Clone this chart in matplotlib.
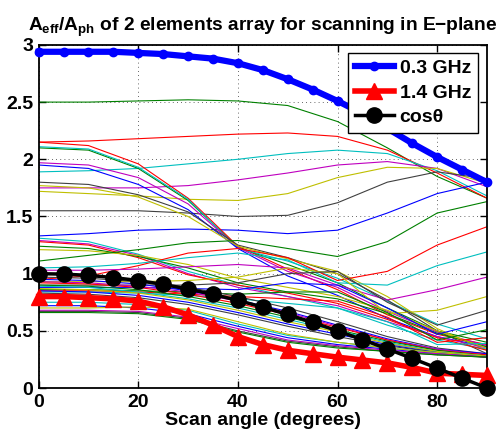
import numpy as np
import matplotlib
matplotlib.use("Agg")
import matplotlib.pyplot as plt
from matplotlib.font_manager import FontProperties

plt.rcParams['font.family'] = ['Liberation Sans', 'DejaVu Sans']
plt.rcParams['font.weight'] = 'bold'
plt.rcParams['mathtext.fontset'] = 'custom'
plt.rcParams['mathtext.rm'] = 'Liberation Sans:bold'
plt.rcParams['mathtext.it'] = 'Liberation Sans:bold'
plt.rcParams['mathtext.bf'] = 'Liberation Sans:bold'

# scan angles of the marked curves (deg)
angles = [0, 5, 10, 15, 20, 25, 30, 35, 40, 45, 50, 55, 60, 65, 70, 75, 80, 85, 90]
low_freq = [2.94, 2.94, 2.94, 2.94, 2.93, 2.92, 2.90, 2.88, 2.84, 2.78, 2.70, 2.61, 2.51,
            2.40, 2.27, 2.14, 2.02, 1.91, 1.80]
high_freq = [0.80, 0.80, 0.79, 0.78, 0.76, 0.71, 0.64, 0.55, 0.45, 0.38, 0.33, 0.30, 0.27,
             0.245, 0.22, 0.18, 0.13, 0.12, 0.11]
cos_ref = [1.0, 0.996, 0.985, 0.966, 0.940, 0.906, 0.866, 0.819, 0.766, 0.707, 0.643, 0.574,
           0.500, 0.423, 0.342, 0.259, 0.174, 0.087, 0.0]

# intermediate frequencies, sampled every 10 deg
thin_angles = [0, 10, 20, 30, 40, 50, 60, 70, 80, 90]

upper_flat = [
    [2.50, 2.50, 2.51, 2.52, 2.51, 2.47, 2.33, 2.10, 1.85, 1.66],
    [2.15, 2.16, 2.18, 2.20, 2.22, 2.23, 2.20, 2.08, 1.88, 1.66],
    [1.89, 1.90, 1.92, 1.96, 2.00, 2.05, 2.08, 2.05, 1.90, 1.68],
    [1.75, 1.75, 1.75, 1.77, 1.82, 1.88, 1.95, 1.98, 1.92, 1.76],
    [1.72, 1.70, 1.68, 1.65, 1.64, 1.70, 1.84, 1.93, 1.92, 1.79],
    [1.55, 1.55, 1.55, 1.53, 1.50, 1.51, 1.62, 1.80, 1.89, 1.83],
    [1.33, 1.35, 1.38, 1.39, 1.38, 1.35, 1.38, 1.53, 1.70, 1.80],
]
upper_flat_colors = ['g', 'r', 'c', 'm', 'y', 'k', 'b']

upper_fall = [
    [2.15, 2.12, 1.96, 1.66, 1.24, 1.04, 0.86, 0.64, 0.47, 0.38],
    [2.10, 2.08, 1.92, 1.64, 1.23, 1.08, 0.92, 0.70, 0.50, 0.40],
    [2.11, 2.09, 1.93, 1.65, 1.22, 1.11, 0.96, 0.76, 0.56, 0.43],
    [1.97, 1.95, 1.84, 1.61, 1.23, 1.02, 0.88, 0.67, 0.49, 0.37],
    [1.95, 1.92, 1.78, 1.56, 1.22, 0.98, 0.81, 0.61, 0.45, 0.36],
    [1.80, 1.78, 1.69, 1.54, 1.25, 1.14, 1.00, 0.77, 0.50, 0.30],
    [1.77, 1.75, 1.67, 1.50, 1.24, 1.13, 1.02, 0.80, 0.52, 0.33],
]
upper_fall_colors = ['r', 'g', 'c', 'm', 'b', 'k', 'y']

mid_fall = [
    [1.31, 1.28, 1.17, 1.02, 0.90, 0.80, 0.70, 0.55, 0.42, 0.34],
    [1.29, 1.26, 1.16, 1.00, 0.88, 0.80, 0.72, 0.58, 0.45, 0.35],
    [1.28, 1.25, 1.14, 0.99, 0.90, 0.83, 0.74, 0.60, 0.44, 0.33],
    [1.24, 1.22, 1.15, 1.05, 0.92, 0.84, 0.78, 0.65, 0.48, 0.36],
    [1.21, 1.20, 1.16, 1.08, 0.96, 0.88, 0.80, 0.68, 0.50, 0.35],
]
mid_fall_colors = ['c', 'm', 'r', 'g', 'y']

late_rise = [
    [1.11, 1.16, 1.21, 1.27, 1.29, 1.22, 1.15, 1.28, 1.53, 1.63],
    [0.95, 0.98, 1.07, 1.18, 1.22, 1.14, 0.94, 1.02, 1.25, 1.41],
    [1.05, 1.06, 1.09, 1.14, 1.18, 1.12, 0.92, 0.90, 1.07, 1.19],
    [1.03, 1.03, 1.04, 1.06, 1.08, 1.05, 0.90, 0.77, 0.86, 0.97],
    [0.93, 0.93, 0.93, 0.94, 0.97, 1.05, 1.00, 0.65, 0.68, 0.80],
    [0.90, 0.90, 0.90, 0.90, 0.92, 1.00, 1.02, 0.75, 0.55, 0.68],
    [0.88, 0.88, 0.88, 0.87, 0.86, 0.92, 0.90, 0.70, 0.47, 0.58],
    [0.86, 0.86, 0.85, 0.84, 0.82, 0.84, 0.84, 0.66, 0.42, 0.51],
    [0.85, 0.85, 0.84, 0.82, 0.80, 0.78, 0.76, 0.62, 0.40, 0.44],
    [0.84, 0.84, 0.83, 0.81, 0.78, 0.74, 0.70, 0.58, 0.38, 0.39],
]
late_rise_colors = ['g', 'r', 'c', 'm', 'y', 'k', 'b', 'g', 'r', 'c']

low_fall = [
    [0.97, 0.96, 0.93, 0.88, 0.80, 0.70, 0.58, 0.45, 0.35, 0.30],
    [0.95, 0.94, 0.91, 0.85, 0.77, 0.67, 0.55, 0.43, 0.34, 0.30],
    [0.93, 0.92, 0.89, 0.84, 0.76, 0.66, 0.54, 0.42, 0.34, 0.29],
    [0.92, 0.91, 0.88, 0.82, 0.74, 0.64, 0.53, 0.42, 0.33, 0.29],
    [0.90, 0.89, 0.86, 0.80, 0.72, 0.62, 0.51, 0.41, 0.33, 0.28],
    [0.89, 0.88, 0.84, 0.78, 0.70, 0.60, 0.50, 0.40, 0.32, 0.28],
    [0.87, 0.86, 0.83, 0.77, 0.68, 0.58, 0.49, 0.39, 0.32, 0.28],
    [0.85, 0.84, 0.81, 0.75, 0.66, 0.56, 0.47, 0.38, 0.31, 0.27],
    [0.83, 0.82, 0.79, 0.73, 0.64, 0.54, 0.45, 0.37, 0.31, 0.27],
    [0.75, 0.75, 0.73, 0.68, 0.56, 0.46, 0.40, 0.35, 0.31, 0.28],
    [0.72, 0.72, 0.70, 0.65, 0.54, 0.44, 0.38, 0.34, 0.30, 0.28],
    [0.70, 0.70, 0.71, 0.69, 0.58, 0.47, 0.40, 0.35, 0.31, 0.28],
    [0.68, 0.68, 0.67, 0.62, 0.52, 0.42, 0.37, 0.33, 0.30, 0.27],
    [0.67, 0.67, 0.66, 0.61, 0.50, 0.41, 0.36, 0.32, 0.29, 0.27],
    [0.66, 0.66, 0.65, 0.60, 0.49, 0.40, 0.35, 0.32, 0.29, 0.27],
]
low_fall_colors = ['k', 'b', 'm', 'r', 'g', 'c', 'y', 'b', 'k', 'c', 'b', 'y', 'm', 'k', 'g']

matlab = {'b': (0, 0, 1), 'g': (0, 0.5, 0), 'r': (1, 0, 0), 'c': (0, 0.75, 0.75),
          'm': (0.75, 0, 0.75), 'y': (0.75, 0.75, 0), 'k': (0.25, 0.25, 0.25)}

fig = plt.figure(figsize=(5.02, 4.36), dpi=100)
ax = fig.add_axes([0.077, 0.110, 0.893, 0.787])

groups = [(upper_flat, upper_flat_colors), (upper_fall, upper_fall_colors),
          (mid_fall, mid_fall_colors), (late_rise, late_rise_colors),
          (low_fall, low_fall_colors)]
for rows, cols in groups:
    for vals, c in zip(rows, cols):
        ax.plot(thin_angles, vals, color=matlab[c], lw=0.8)

ax.plot(angles, low_freq, '-o', color='b', lw=4.5, ms=6, label='0.3 GHz', clip_on=False, zorder=5)
ax.plot(angles, high_freq, '-^', color='r', lw=4, ms=11, label='1.4 GHz', clip_on=False, zorder=5)
ax.plot(angles, cos_ref, '-o', color='k', lw=2.5, ms=11, label='cosθ', clip_on=False, zorder=6)

ax.set_xlim(0, 90)
ax.set_ylim(0, 3)
ax.set_xticks([0, 20, 40, 60, 80])
ax.set_yticks([0, 0.5, 1, 1.5, 2, 2.5, 3])
ax.set_yticklabels(['0', '0.5', '1', '1.5', '2', '2.5', '3'])
ax.tick_params(direction='in', length=5, width=1, labelsize=14, top=True, right=True, pad=4)
for lab in ax.get_xticklabels() + ax.get_yticklabels():
    lab.set_fontweight('bold')
for sp in ax.spines.values():
    sp.set_linewidth(1.3)
ax.grid(True, linestyle=(0, (1, 4)), color='k', lw=0.6, alpha=0.8)

ax.set_xlabel('Scan angle (degrees)', fontsize=14, fontweight='bold', labelpad=1)
ax.set_title(r'$A_{eff}/A_{ph}$ of 2 elements array for scanning in E−plane',
             fontsize=13.8, fontweight='bold', pad=10)

leg_font = FontProperties(family='Liberation Sans', weight='bold', size=14)
leg = ax.legend(loc='upper right', bbox_to_anchor=(0.98, 0.977), prop=leg_font,
                frameon=True, fancybox=False, edgecolor='k', framealpha=1, borderpad=0.35,
                handlelength=2.0, handletextpad=0.3, labelspacing=0.35, borderaxespad=0)
leg.set_zorder(10)
leg.get_frame().set_linewidth(1.0)

fig.savefig('out.png', dpi=100)
